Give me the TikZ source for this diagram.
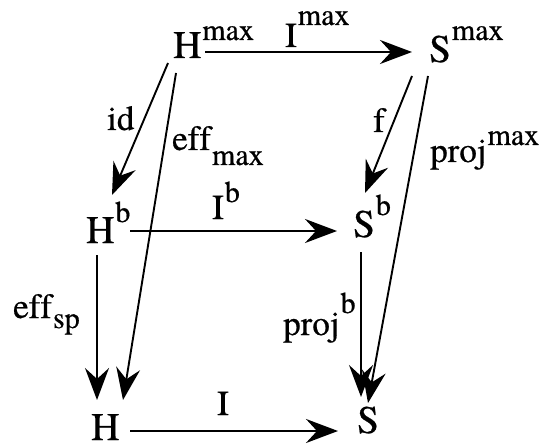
\documentclass[tikz,border=0pt]{standalone}
\usepackage{fontspec}
\setmainfont{texgyretermes}[Extension=.otf, UprightFont=*-regular, BoldFont=*-bold, ItalicFont=*-italic, BoldItalicFont=*-bolditalic, Ligatures=NoCommon, FakeBold=0.6]
\usetikzlibrary{arrows.meta,calc}
\newcommand{\objfont}{\rmfamily\fontsize{39}{39}\selectfont}
\newcommand{\labfont}{\rmfamily\fontsize{35}{35}\selectfont}
\newcommand{\scrfont}{\rmfamily\fontsize{30}{30}\selectfont}
\newcommand{\Up}[2]{\kern1pt\raisebox{#1}{\scrfont #2}}
\newcommand{\Dn}[2]{\kern1pt\raisebox{-#1}{\scrfont #2}}
\tikzset{
  obj/.style={anchor=base west, inner sep=0pt, font=\objfont},
  lab/.style={anchor=base west, inner sep=0pt, font=\labfont},
  harr/.style={line width=2.6pt, -{Stealth[length=32pt,width=24pt,inset=11pt]}},
  darr/.style={line width=1.9pt, -{Stealth[length=32pt,width=24pt,inset=11pt]}},
}
\begin{document}
\begin{tikzpicture}[x=1pt,y=-1pt]
\useasboundingbox (0,0) rectangle (553,446);
% objects
\node[obj] (Hmax) at (173,58) {H\Up{18pt}{max}};
\node[obj] (Smax) at (429,62) {S\Up{22pt}{max}};
\node[obj] (Hb) at (86,243) {H\Up{21pt}{b}};
\node[obj] (Sb) at (353,237) {S\Up{22pt}{b}};
\node[obj] (H) at (91,440) {H};
\node[obj] (S) at (357,433) {S};
% arrows
\draw[harr] ($(Hmax.base west)+(32,-6)$) -- ($(Smax.base west)+(-17,-10)$);
\draw[harr] ($(Hb.base west)+(44,-12)$) -- ($(Sb.base west)+(-16,-6)$);
\draw[harr] ($(H.base west)+(39,-9)$) -- ($(S.base west)+(-19,-2)$);
\draw[darr] ($(Hmax.base west)+(-5,5)$) -- ($(Hb.base west)+(26,-48)$);
\draw[darr] ($(Hmax.base west)+(3,15)$) -- ($(H.base west)+(32,-40)$);
\draw[darr] ($(Hb.base west)+(11,12)$) -- ($(H.base west)+(6,-40)$);
\draw[darr] ($(Smax.base west)+(-17,14)$) -- ($(Sb.base west)+(12,-44)$);
\draw[darr] ($(Smax.base west)+(-1,14)$) -- ($(S.base west)+(11,-30)$);
\draw[darr] ($(Sb.base west)+(8,15)$) -- ($(S.base west)+(4,-36)$);
% labels
\node[lab] (lImax) at (285,47) {I\Up{22pt}{max}};
\node[lab] (lIb) at (212,219) {I\Up{17pt}{b}};
\node[lab] (lI) at (217,415) {I};
\node[lab] (lid) at (107,130) {id};
\node[lab] (leffmax) at (172,150) {eff\Dn{15pt}{max}};
\node[lab] (lf) at (373,132) {f};
\node[lab] (lprojmax) at (430,162) {proj\Up{17pt}{max}};
\node[lab] (leffsp) at (13,318) {eff\Dn{10pt}{sp}};
\node[lab] (lprojb) at (283,335) {proj\Up{22pt}{b}};
\end{tikzpicture}
\end{document}
